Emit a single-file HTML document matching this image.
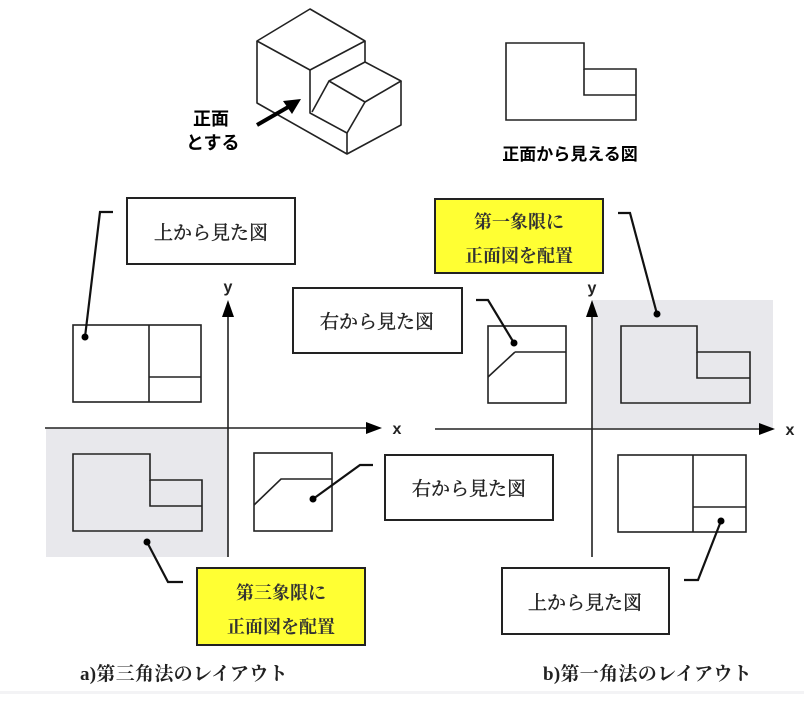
<!DOCTYPE html>
<html><head><meta charset="utf-8"><style>
html,body{margin:0;padding:0;background:#fff;}
svg{display:block;}
.g{font-family:"Liberation Sans","Noto Sans CJK JP",sans-serif;font-weight:bold;}
.m{font-family:"Liberation Serif","Noto Serif CJK SC",serif;}
</style></head><body>
<svg width="804" height="722" viewBox="0 0 804 722" xmlns="http://www.w3.org/2000/svg">
<rect x="0" y="691" width="804" height="3" fill="#f3f3f5"/>
<g fill="none" stroke="#222" stroke-width="1.6" stroke-linejoin="round">
<path d="M310 9 L257 41 L310 70 L365 41 Z"/>
<path d="M365 41 L365 62 L329 81 L365 102 L401 81 L365 62"/>
<path d="M257 41 L257 103 L347 154 L401 125 L401 81"/>
<path d="M310 70 L310 113 L347 133 L347 154"/>
<path d="M329 81 L312 112"/>
<path d="M365 102 L347 133"/>
</g>
<line x1="257" y1="125" x2="290" y2="106" stroke="#000" stroke-width="4"/>
<polygon points="301,99 283,101 292,114" fill="#000"/>
<text x="193" y="125" class="g" font-size="18">正面</text>
<text x="186" y="149" class="g" font-size="18">とする</text>
<g fill="none" stroke="#222" stroke-width="1.6">
<path d="M506 43 L584 43 L584 69 L636 69 L636 120 L506 120 Z"/>
<path d="M584 69 L584 95 L636 95"/>
</g>
<text x="570" y="160" class="g" font-size="17" text-anchor="middle">正面から見える図</text>

<rect x="46" y="428" width="182" height="129" fill="#e8e8ec"/>
<rect x="592" y="300" width="181" height="128" fill="#e8e8ec"/>

<g stroke="#222" stroke-width="1.6" fill="none">
<line x1="228" y1="557" x2="228" y2="312"/>
<line x1="45" y1="428" x2="372" y2="428"/>
<line x1="592" y1="557" x2="592" y2="312"/>
<line x1="435" y1="429" x2="765" y2="429"/>
<rect x="73" y="325" width="128" height="77"/>
<path d="M149 325 L149 402 M149 377 L201 377"/>
<path d="M73 454 L150 454 L150 480 L202 480 L202 531 L73 531 Z"/>
<path d="M150 480 L150 506 L202 506"/>
<rect x="254" y="453" width="78" height="78"/>
<path d="M254 505 L281 479 L332 479"/>
<path d="M621 326 L697 326 L697 352 L750 352 L750 403 L621 403 Z"/>
<path d="M697 352 L697 378 L750 378"/>
<rect x="488" y="326" width="78" height="77"/>
<path d="M515 352 L566 352 M515 352 L488 377"/>
<rect x="618" y="455" width="128" height="77"/>
<path d="M693 455 L693 532 M693 507 L746 507"/>
</g>
<g fill="#000">
<polygon points="228,300 222,317 234,317"/>
<polygon points="382,428 366,422 366,434"/>
<polygon points="592,300 586,317 598,317"/>
<polygon points="775,429 759,423 759,435"/>
</g>
<g class="g" font-size="16" fill="#222">
<text x="228" y="292" text-anchor="middle">y</text>
<text x="397" y="434" text-anchor="middle">x</text>
<text x="592" y="293" text-anchor="middle">y</text>
<text x="790" y="435" text-anchor="middle">x</text>
</g>

<g stroke="#111" stroke-width="2.2" fill="none">
<path d="M113 212 L100 212 L85 337"/>
<path d="M147 542 L168 582 L183 582"/>
<path d="M313 499 L360 465 L373 465"/>
<path d="M618 213 L630 213 L657 314"/>
<path d="M514 343 L488 300 L476 300"/>
<path d="M721 521 L698 580 L684 580"/>
</g>
<g fill="#000">
<circle cx="85" cy="337" r="3.5"/>
<circle cx="147" cy="542" r="3.5"/>
<circle cx="313" cy="499" r="3.5"/>
<circle cx="657" cy="314" r="3.5"/>
<circle cx="514" cy="343" r="3.5"/>
<circle cx="721" cy="521" r="3.5"/>
</g>

<g stroke="#222" stroke-width="2">
<rect x="127" y="198" width="168" height="66" fill="#fff"/>
<rect x="293" y="288" width="169" height="65" fill="#fff"/>
<rect x="385" y="455" width="168" height="65" fill="#fff"/>
<rect x="502" y="568" width="167" height="66" fill="#fff"/>
<rect x="197" y="568" width="168" height="77" fill="#ffff33"/>
<rect x="435" y="199" width="168" height="74" fill="#ffff33"/>
</g>
<g class="m" font-size="19" fill="#222" stroke="#222" stroke-width="0.4" text-anchor="middle">
<text x="211" y="239">上から見た図</text>
<text x="377" y="328">右から見た図</text>
<text x="469" y="495">右から見た図</text>
<text x="585" y="609">上から見た図</text>
</g>
<g class="m" font-size="18" fill="#333" text-anchor="middle" font-weight="bold">
<text x="281" y="599">第三象限に</text>
<text x="281" y="633">正面図を配置</text>
<text x="519" y="228">第一象限に</text>
<text x="519" y="262">正面図を配置</text>
</g>
<g class="m" font-size="19" fill="#222" font-weight="bold" letter-spacing="0.3">
<text x="80" y="680">a)第三角法のレイアウト</text>
<text x="543" y="680">b)第一角法のレイアウト</text>
</g>
</svg>
</body></html>
